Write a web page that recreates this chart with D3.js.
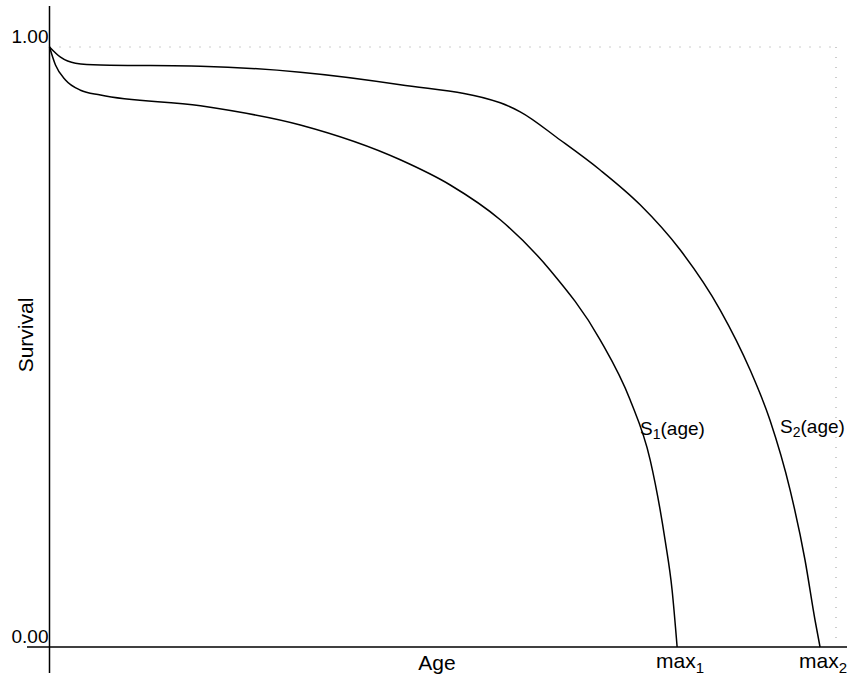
<!DOCTYPE html><html><head><meta charset="utf-8"><script src="https://d3js.org/d3.v7.min.js"></script>
<style>body{margin:0;background:#fff}text{font-family:"Liberation Sans",Arial,sans-serif;fill:#000}</style></head><body>
<script>
const s1Age=[0,0.76,2.03,3.94,6.48,19.19,31.89,44.60,50.95,57.31,63.66,70.01,73.82,76.37,78.27,79.16,79.80];
const s1Val=[1,0.970,0.945,0.928,0.920,0.902,0.870,0.812,0.770,0.712,0.628,0.512,0.412,0.312,0.178,0.095,0];
const s2Age=[0,1.40,3.30,6.48,19.19,31.89,44.60,57.31,59.85,64.93,70.01,75.10,80.18,85.26,89.07,91.61,94.16,96.06,97.33,97.97];
const s2Val=[1,0.983,0.973,0.970,0.968,0.958,0.937,0.907,0.892,0.845,0.795,0.737,0.662,0.562,0.462,0.378,0.262,0.145,0.045,0];
const yTicks=[0,1];
const maxAges=[79.80,97.97];
const W=847,H=681;
const svg=d3.select("body").append("svg").attr("width",W).attr("height",H);
const x=d3.scaleLinear().domain([0,100]).range([49.5,836]);
const y=d3.scaleLinear().domain([0,1]).range([647,47]);
svg.append("line").attr("x1",x(0)).attr("x2",x(100)).attr("y1",y(1)).attr("y2",y(1)).attr("stroke","#999").attr("stroke-dasharray","1,9");
svg.append("line").attr("x1",x(100)).attr("x2",x(100)).attr("y1",y(1)).attr("y2",y(0)).attr("stroke","#999").attr("stroke-dasharray","1,9");
svg.append("line").attr("x1",x(0)).attr("x2",x(0)).attr("y1",6).attr("y2",673).attr("stroke","#000").attr("stroke-width",1.5);
svg.append("line").attr("x1",27).attr("x2",847).attr("y1",y(0)).attr("y2",y(0)).attr("stroke","#000").attr("stroke-width",1.5);
yTicks.forEach(t=>svg.append("text").attr("x",x(0)-1).attr("y",y(t)-4).attr("text-anchor","end").attr("font-size",19).text(t.toFixed(2)));
const line=d3.line().x(d=>x(d[0])).y(d=>y(d[1])).curve(d3.curveMonotoneX);
[[s1Age,s1Val],[s2Age,s2Val]].forEach(([a,v])=>svg.append("path").attr("d",line(a.map((d,i)=>[d,v[i]]))).attr("fill","none").attr("stroke","#000").attr("stroke-width",1.5));
maxAges.forEach((m,i)=>{const t=svg.append("text").attr("x",x(m)+3).attr("y",668).attr("text-anchor","middle").attr("font-size",21).text("max");t.append("tspan").attr("font-size",15).attr("dy",5).text(i+1);});
[[640,435,"1"],[780,433,"2"]].forEach(([px,py,n])=>{const t=svg.append("text").attr("x",px).attr("y",py).attr("font-size",19).text("S");t.append("tspan").attr("font-size",14).attr("dy",4).text(n);t.append("tspan").attr("dy",-4).text("(age)");});
svg.append("text").attr("x",437).attr("y",670).attr("text-anchor","middle").attr("font-size",21).text("Age");
svg.append("text").attr("transform","translate(33,335) rotate(-90)").attr("text-anchor","middle").attr("font-size",21).text("Survival");
</script></body></html>
